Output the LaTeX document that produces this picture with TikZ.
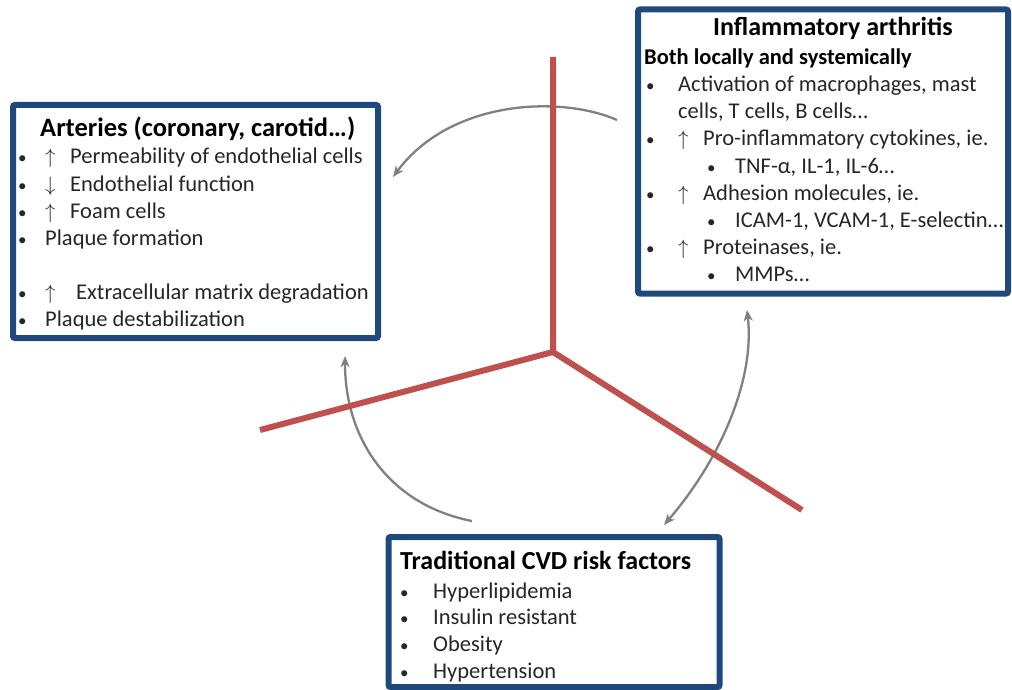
\documentclass[tikz,border=0pt]{standalone}
\usepackage{fontspec}
\setmainfont{Carlito}
\usetikzlibrary{arrows.meta}
\definecolor{boxblue}{RGB}{31,73,125}
\definecolor{axisred}{RGB}{192,80,77}
\definecolor{arrgray}{RGB}{128,128,128}
\tikzset{
  box/.style={draw=boxblue, line width=6pt, rounded corners=2pt, inner sep=0pt},
  txt/.style={anchor=base west, inner sep=0pt, font=\fontsize{22.5}{26}\selectfont, text=black!85},
  bul/.style={anchor=base west, inner sep=0pt, font=\fontsize{17}{20}\selectfont, text=black!85},
  ttl/.style={anchor=base west, inner sep=0pt, font=\fontsize{26}{30}\selectfont\bfseries, text=black},
  axis/.style={draw=axisred, line width=6pt},
  link/.style={draw=arrgray, line width=2.3pt, -{Stealth[length=11pt,width=9pt,inset=3pt]}},
  dlink/.style={draw=arrgray, line width=2.3pt, {Stealth[length=11pt,width=9pt,inset=3pt]}-{Stealth[length=11pt,width=9pt,inset=3pt]}}
}
\newcommand{\up}{\makebox[25pt][l]{$\uparrow$}}
\newcommand{\upw}{\makebox[31pt][l]{$\uparrow$}}
\newcommand{\dn}{\makebox[25pt][l]{$\downarrow$}}
\begin{document}
\begin{tikzpicture}[x=1pt,y=-1pt]
\useasboundingbox (0,0) rectangle (1012,690);

% arrow end points
\coordinate (t1) at (617,120);
\coordinate (t2) at (393,177);
\coordinate (l1) at (472,521);
\coordinate (l2) at (345,356);
\coordinate (r1) at (664,525);
\coordinate (r2) at (747,310);

\draw[link] (t1) .. controls (560,95) and (450,100) .. (t2);
\draw[link] (l1) .. controls (390,505) and (345,440) .. (l2);
\draw[dlink] (r1) .. controls (720,460) and (755,380) .. (r2);

% red axes
\coordinate (c) at (553,352);
\coordinate (ctop) at (553,57);
\coordinate (cleft) at (260,430);
\coordinate (cright) at (802,510);
\draw[axis] (ctop) -- (c) -- (cleft);
\draw[axis] (c) -- (cright);

% boxes
\node[box, minimum width=365pt, minimum height=233pt] (art) at (195.5,221.5) {};
\node[box, minimum width=370pt, minimum height=284pt] (inf) at (823,151.5) {};
\node[box, minimum width=331pt, minimum height=150pt] (cvd) at (554,612) {};

% Arteries text
\node[ttl, font=\fontsize{26.5}{30}\selectfont\bfseries] (artT) at (40,137) {Arteries (coronary, carotid\ldots)};
\node[bul] (ab1) at (18,164) {•}; \node[txt] (a1) at (45,164) {\up Permeability of endothelial cells};
\node[bul] (ab2) at (18,191) {•}; \node[txt] (a2) at (45,191) {\dn Endothelial function};
\node[bul] (ab3) at (18,218) {•}; \node[txt] (a3) at (45,218) {\up Foam cells};
\node[bul] (ab4) at (18,245) {•}; \node[txt] (a4) at (45,245) {Plaque formation};
\node[bul] (ab5) at (18,299) {•}; \node[txt] (a5) at (45,299) {\upw Extracellular matrix degradation};
\node[bul] (ab6) at (18,326) {•}; \node[txt] (a6) at (45,326) {Plaque destabilization};

% Inflammatory arthritis text
\node[ttl] (infT) at (713,36) {Inflammatory arthritis};
\node[ttl, font=\fontsize{22.5}{26}\selectfont\bfseries] (infS) at (644,65) {Both locally and systemically};
\node[bul] (ib1) at (646,92) {•}; \node[txt] (i1) at (678,92) {Activation of macrophages, mast};
\node[txt] (i1b) at (678,119) {cells, T cells, B cells\ldots};
\node[bul] (ib2) at (646,146) {•}; \node[txt] (i2) at (678,146) {\up Pro-inflammatory cytokines, ie.};
\node[bul] (ib3) at (707,173) {•}; \node[txt] (i3) at (735,173) {TNF-α, IL-1, IL-6\ldots};
\node[bul] (ib4) at (646,200) {•}; \node[txt] (i4) at (678,200) {\up Adhesion molecules, ie.};
\node[bul] (ib5) at (707,227) {•}; \node[txt] (i5) at (735,227) {ICAM-1, VCAM-1, E-selectin\ldots};
\node[bul] (ib6) at (646,254) {•}; \node[txt] (i6) at (678,254) {\up Proteinases, ie.};
\node[bul] (ib7) at (707,281) {•}; \node[txt] (i7) at (735,281) {MMPs\ldots};

% CVD text
\node[ttl] (cvdT) at (400,569) {Traditional CVD risk factors};
\node[bul] (cb1) at (400,598) {•}; \node[txt] (c1) at (433,598) {Hyperlipidemia};
\node[bul] (cb2) at (400,624) {•}; \node[txt] (c2) at (433,624) {Insulin resistant};
\node[bul] (cb3) at (400,651) {•}; \node[txt] (c3) at (433,651) {Obesity};
\node[bul] (cb4) at (400,678) {•}; \node[txt] (c4) at (433,678) {Hypertension};
\end{tikzpicture}
\end{document}
